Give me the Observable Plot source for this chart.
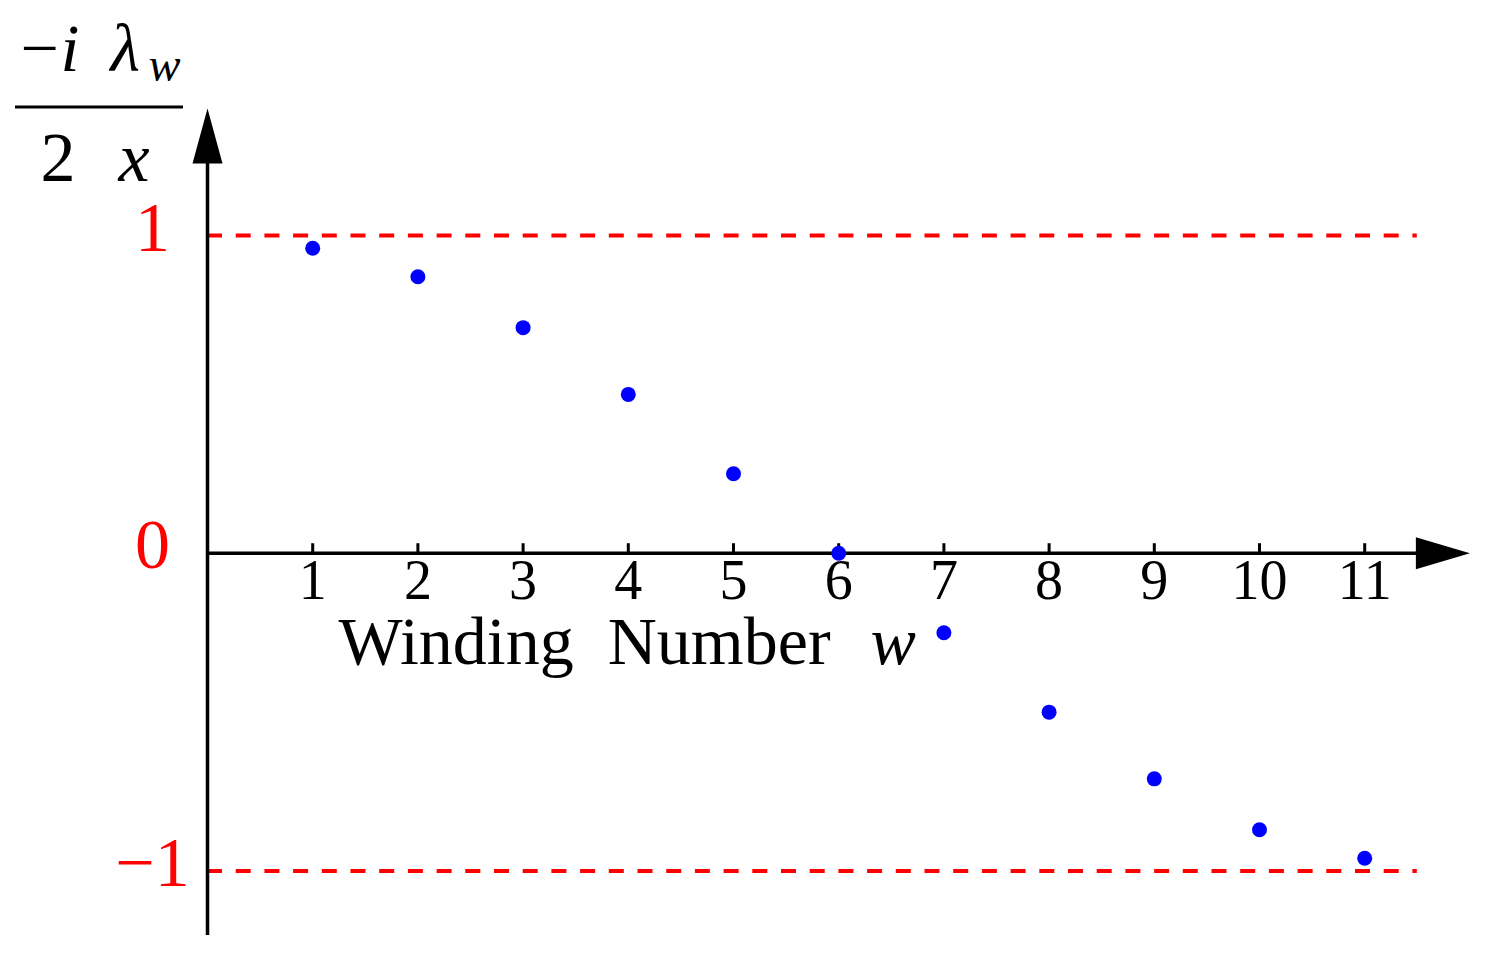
<!DOCTYPE html>
<html><head><meta charset="utf-8">
<script src="https://cdn.jsdelivr.net/npm/d3@7"></script>
<script src="https://cdn.jsdelivr.net/npm/@observablehq/plot@0.6"></script>
<style>body{margin:0;background:#fff;} svg{display:block;}</style>
</head><body><div id="chart"></div>
<script>
// ---- data ----
const windingNumbers = [1, 2, 3, 4, 5, 6, 7, 8, 9, 10, 11];
const eigenValues = [0.96, 0.87, 0.71, 0.50, 0.25, 0.0, -0.25, -0.50, -0.71, -0.87, -0.96];
const xTickLabels = ["1", "2", "3", "4", "5", "6", "7", "8", "9", "10", "11"];
const yTickValues = [1, 0, -1];
const yTickLabels = ["1", "0", "\u22121"];
const boundValues = [1, -1];

const points = windingNumbers.map((w, i) => ({w, v: eigenValues[i]}));
const xTicks = windingNumbers.map((w, i) => ({w, label: xTickLabels[i]}));
const yTicks = yTickValues.map((v, i) => ({v, label: yTickLabels[i]}));

const W = 1485, H = 958;
const serif = "'Liberation Serif', 'DejaVu Serif', serif";

const arrowRight = {draw(ctx) { ctx.moveTo(0, 0); ctx.lineTo(-54, -16); ctx.lineTo(-54, 16); ctx.closePath(); }};
const arrowUp = {draw(ctx) { ctx.moveTo(0, 0); ctx.lineTo(-15, 55); ctx.lineTo(15, 55); ctx.closePath(); }};

const label = (text, dx, dy, size, style = "normal", color = "black") =>
  Plot.text([text], {frameAnchor: "top-left", dx, dy, fontSize: size, fontFamily: serif,
    fontStyle: style, fill: color, textAnchor: "start", lineAnchor: "bottom"});

const chart = Plot.plot({
  width: W, height: H,
  marginLeft: 207, marginRight: 15.6, marginTop: 235, marginBottom: 87.5,
  x: {domain: [0, 12], axis: null},
  y: {domain: [-1, 1], axis: null},
  style: {background: "white", overflow: "visible"},
  marks: [
    // bounds
    Plot.ruleY(boundValues, {x1: 0, x2: 11.5, stroke: "#ff0000", strokeWidth: 4, strokeDasharray: "15,13.7"}),
    // axes
    Plot.ruleY([0], {x1: 0, x2: 11.7, stroke: "black", strokeWidth: 3.5}),
    Plot.ruleX([0], {y1: -1.203, y2: 1.3, stroke: "black", strokeWidth: 3.5}),
    Plot.dot([{x: 12, y: 0}], {x: "x", y: "y", symbol: arrowRight, r: 5, fill: "black", stroke: "none"}),
    Plot.dot([{x: 0, y: 1.4}], {x: "x", y: "y", symbol: arrowUp, r: 5, fill: "black", stroke: "none"}),
    // x ticks
    Plot.ruleX(xTicks, {x: "w", y1: 0, y2: 0.03, stroke: "black", strokeWidth: 3}),
    Plot.text(xTicks, {x: "w", y: 0, text: "label", dy: 46, lineAnchor: "bottom", textAnchor: "middle",
      fontSize: 56, fontFamily: serif, fill: "black"}),
    // y tick labels (red)
    Plot.text(yTicks, {x: 0, y: "v", text: "label", dx: -55, dy: 15, lineAnchor: "bottom", textAnchor: "middle",
      fontSize: 70, fontFamily: serif, fill: "#ff0000"}),
    // data
    Plot.dot(points, {x: "w", y: "v", r: 7.5, fill: "#0000ff", stroke: "none"}),
    // x axis title
    label("Winding\u00A0\u00A0Number", 131, 428, 68),
    label("w", 663, 428, 68, "italic"),
    // y axis title (fraction)
    label("\u2212", -187, -165, 68),
    label("i", -147, -165, 68, "italic"),
    label("\u03BB", -97, -165, 68, "italic"),
    label("w", -59, -155, 48, "italic"),
    label("2", -167, -55, 70),
    label("x", -89, -55, 70, "italic")
  ]
});

// fraction bar of the y-axis title
d3.select(chart).append("line")
  .attr("x1", 15).attr("x2", 183).attr("y1", 107).attr("y2", 107)
  .attr("stroke", "black").attr("stroke-width", 3);

document.getElementById("chart").appendChild(chart);
</script>
</body></html>
